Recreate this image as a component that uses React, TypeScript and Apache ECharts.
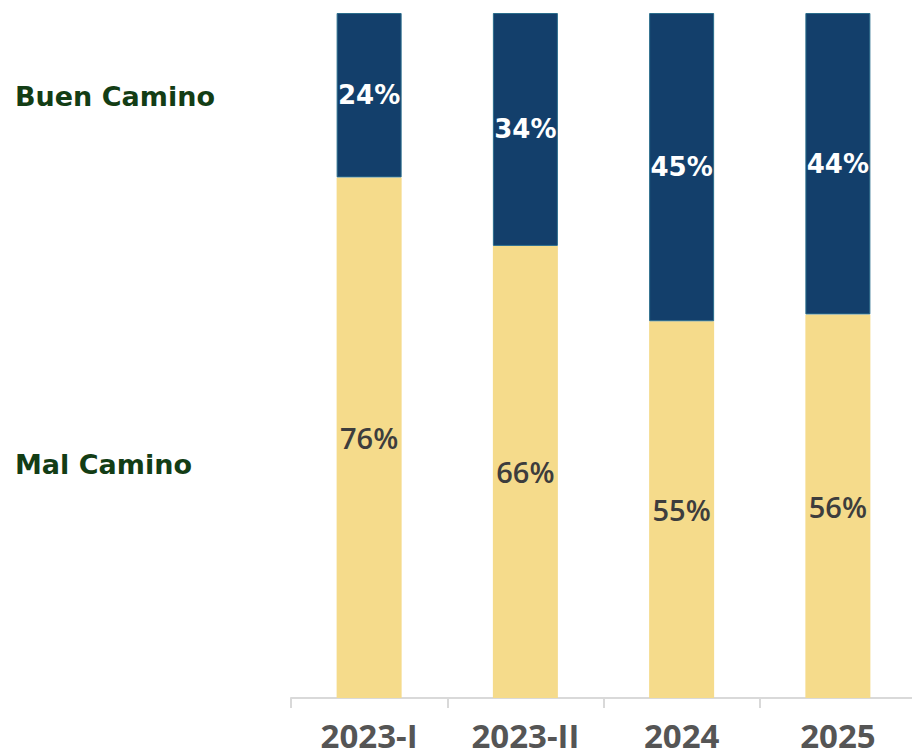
import React, { useEffect, useRef } from "react";
import * as echarts from "echarts";

const categories = ["2023-I", "2023-II", "2024", "2025"];
const malCamino = [76, 66, 55, 56];
const buenCamino = [24, 34, 45, 44];
const seriesNames = ["Mal Camino", "Buen Camino"];

export default function App() {
  const ref = useRef<HTMLDivElement>(null);
  useEffect(() => {
    if (!ref.current) return;
    const chart = echarts.init(ref.current, undefined, { renderer: "svg" });
    const openSans = "'Open Sans', 'Noto Sans', sans-serif";
    const dejavu = "'DejaVu Sans', sans-serif";
    chart.setOption({
      animation: false,
      backgroundColor: "#ffffff",
      grid: {
        left: 291,
        top: 13,
        width: 625,
        height: 685,
        containLabel: false,
        outerBoundsMode: "none",
      },
      xAxis: {
        type: "category",
        data: categories,
        axisLine: { show: true, lineStyle: { color: "#d9d9d9", width: 2 } },
        axisTick: { show: true, length: 10, lineStyle: { color: "#d9d9d9", width: 2 } },
        axisLabel: {
          color: "#555555",
          fontFamily: openSans,
          fontWeight: "bold",
          fontSize: 33,
          margin: 21,
        },
      },
      yAxis: {
        type: "value",
        min: 0,
        max: 100,
        show: false,
        splitLine: { show: false },
      },
      series: [
        {
          name: seriesNames[0],
          type: "bar",
          stack: "total",
          data: malCamino,
          barWidth: 65,
          itemStyle: { color: "#f5db8b" },
          label: {
            show: true,
            position: "inside",
            formatter: "{c}%",
            color: "#3d3d3d",
            fontFamily: openSans,
            fontWeight: 600,
            fontSize: 29,
          },
        },
        {
          name: seriesNames[1],
          type: "bar",
          stack: "total",
          data: buenCamino,
          barWidth: 65,
          itemStyle: { color: "#133f6b", borderColor: "#2a6d8c", borderWidth: 1 },
          label: {
            show: true,
            position: "inside",
            formatter: "{c}%",
            color: "#ffffff",
            fontFamily: dejavu,
            fontWeight: "bold",
            fontSize: 26,
          },
        },
      ],
      graphic: [
        {
          type: "text",
          x: 15,
          y: 96,
          style: {
            text: seriesNames[1],
            fill: "#133d15",
            font: `bold 27px ${dejavu}`,
            verticalAlign: "middle",
          },
        },
        {
          type: "text",
          x: 15,
          y: 464,
          style: {
            text: seriesNames[0],
            fill: "#133d15",
            font: `bold 27px ${dejavu}`,
            verticalAlign: "middle",
          },
        },
      ],
    });
    return () => chart.dispose();
  }, []);
  return (
    <div
      ref={ref}
      style={{ position: "absolute", left: 0, top: 0, width: 912, height: 753 }}
    />
  );
}
